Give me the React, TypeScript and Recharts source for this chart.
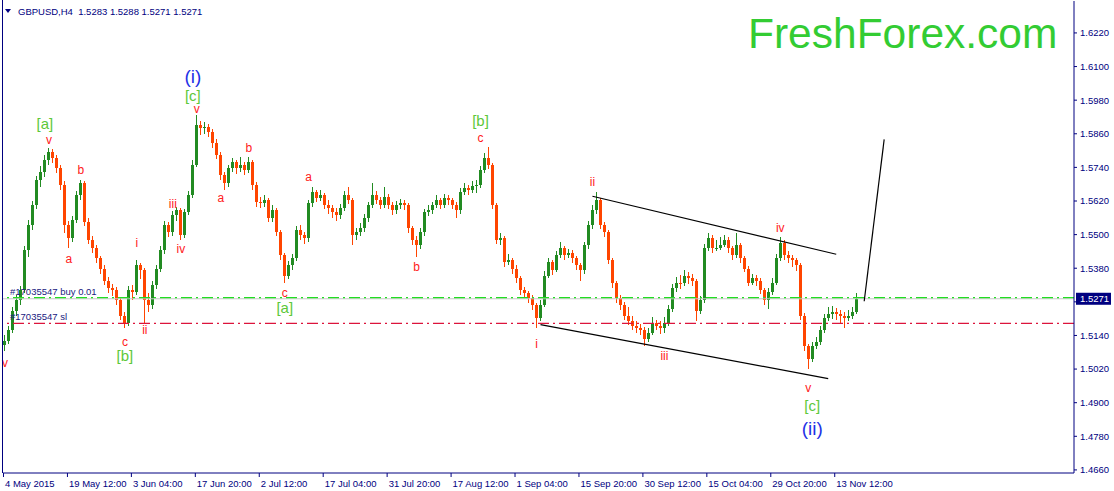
import React from 'react';
import { ComposedChart, Bar, XAxis, YAxis, ReferenceLine, ReferenceDot } from 'recharts';

// ---- price data (one candle per ~4 H4 bars) ----
const opens = [
  1.5105, 1.5122, 1.5158, 1.5229, 1.5265, 1.5301, 1.5444, 1.5533, 1.5605, 1.5694,
  1.5723, 1.5766, 1.5794, 1.5773, 1.5737, 1.5676, 1.5533, 1.5487, 1.5551, 1.5641,
  1.5683, 1.5544, 1.5480, 1.5451, 1.5415, 1.5379, 1.5336, 1.5308, 1.5301, 1.5265,
  1.5211, 1.5186, 1.5301, 1.5294, 1.5390, 1.5372, 1.5265, 1.5247, 1.5319, 1.5379,
  1.5444, 1.5533, 1.5508, 1.5569, 1.5587, 1.5497, 1.5580, 1.5641, 1.5748, 1.5891,
  1.5880, 1.5885, 1.5868, 1.5827, 1.5784, 1.5712, 1.5683, 1.5737, 1.5759, 1.5737,
  1.5748, 1.5730, 1.5759, 1.5676, 1.5615, 1.5612, 1.5623, 1.5558, 1.5587, 1.5508,
  1.5426, 1.5354, 1.5390, 1.5415, 1.5515, 1.5497, 1.5487, 1.5612, 1.5651, 1.5630,
  1.5641, 1.5605, 1.5594, 1.5580, 1.5569, 1.5594, 1.5641, 1.5623, 1.5497, 1.5508,
  1.5522, 1.5558, 1.5605, 1.5641, 1.5623, 1.5605, 1.5633, 1.5605, 1.5587, 1.5605,
  1.5612, 1.5605, 1.5522, 1.5480, 1.5462, 1.5508, 1.5580, 1.5587, 1.5605, 1.5623,
  1.5605, 1.5630, 1.5623, 1.5605, 1.5587, 1.5651, 1.5666, 1.5658, 1.5673, 1.5676,
  1.5730, 1.5773, 1.5748, 1.5605, 1.5480, 1.5487, 1.5401, 1.5408, 1.5379, 1.5344,
  1.5301, 1.5290, 1.5272, 1.5247, 1.5201, 1.5247, 1.5354, 1.5401, 1.5372, 1.5426,
  1.5451, 1.5426, 1.5433, 1.5415, 1.5390, 1.5372, 1.5462, 1.5533, 1.5587, 1.5623,
  1.5533, 1.5508, 1.5408, 1.5326, 1.5272, 1.5247, 1.5211, 1.5193, 1.5175, 1.5165,
  1.5158, 1.5129, 1.5150, 1.5186, 1.5175, 1.5165, 1.5186, 1.5236, 1.5308, 1.5329,
  1.5326, 1.5354, 1.5344, 1.5336, 1.5229, 1.5265, 1.5451, 1.5487, 1.5451, 1.5454,
  1.5462, 1.5480, 1.5451, 1.5426, 1.5462, 1.5415, 1.5379, 1.5329, 1.5344, 1.5336,
  1.5301, 1.5265, 1.5294, 1.5329, 1.5415, 1.5469, 1.5426, 1.5415, 1.5408, 1.5390,
  1.5211, 1.5104, 1.5057, 1.5104, 1.5115, 1.5158, 1.5201, 1.5218, 1.5222, 1.5215,
  1.5208, 1.5201, 1.5211, 1.5222,
];

const highs = [
  1.5140, 1.5172, 1.5240, 1.5285, 1.5318, 1.5458, 1.5552, 1.5620, 1.5708, 1.5745,
  1.5785, 1.5809, 1.5805, 1.5786, 1.5748, 1.5690, 1.5550, 1.5565, 1.5655, 1.5694,
  1.5690, 1.5560, 1.5495, 1.5462, 1.5425, 1.5390, 1.5350, 1.5325, 1.5312, 1.5278,
  1.5225, 1.5315, 1.5320, 1.5408, 1.5398, 1.5380, 1.5290, 1.5335, 1.5392, 1.5458,
  1.5548, 1.5545, 1.5585, 1.5600, 1.5595, 1.5592, 1.5655, 1.5765, 1.5927, 1.5905,
  1.5902, 1.5895, 1.5878, 1.5840, 1.5795, 1.5725, 1.5750, 1.5772, 1.5768, 1.5776,
  1.5758, 1.5776, 1.5768, 1.5688, 1.5635, 1.5640, 1.5632, 1.5605, 1.5595, 1.5515,
  1.5435, 1.5405, 1.5430, 1.5530, 1.5535, 1.5510, 1.5625, 1.5669, 1.5660, 1.5658,
  1.5650, 1.5625, 1.5605, 1.5595, 1.5610, 1.5655, 1.5669, 1.5630, 1.5525, 1.5540,
  1.5572, 1.5618, 1.5683, 1.5655, 1.5635, 1.5669, 1.5645, 1.5615, 1.5620, 1.5628,
  1.5625, 1.5612, 1.5530, 1.5495, 1.5522, 1.5592, 1.5605, 1.5618, 1.5640, 1.5632,
  1.5645, 1.5640, 1.5630, 1.5615, 1.5665, 1.5685, 1.5678, 1.5690, 1.5694, 1.5745,
  1.5790, 1.5812, 1.5755, 1.5612, 1.5505, 1.5495, 1.5430, 1.5415, 1.5390, 1.5352,
  1.5312, 1.5300, 1.5285, 1.5255, 1.5265, 1.5370, 1.5415, 1.5410, 1.5440, 1.5472,
  1.5460, 1.5450, 1.5445, 1.5425, 1.5398, 1.5475, 1.5548, 1.5605, 1.5651, 1.5630,
  1.5545, 1.5515, 1.5415, 1.5335, 1.5285, 1.5258, 1.5240, 1.5210, 1.5190, 1.5180,
  1.5170, 1.5165, 1.5205, 1.5195, 1.5190, 1.5205, 1.5250, 1.5322, 1.5350, 1.5355,
  1.5372, 1.5365, 1.5360, 1.5342, 1.5280, 1.5465, 1.5505, 1.5500, 1.5480, 1.5490,
  1.5500, 1.5492, 1.5460, 1.5504, 1.5470, 1.5425, 1.5388, 1.5360, 1.5355, 1.5345,
  1.5310, 1.5310, 1.5345, 1.5430, 1.5490, 1.5480, 1.5440, 1.5428, 1.5415, 1.5398,
  1.5220, 1.5110, 1.5118, 1.5135, 1.5172, 1.5215, 1.5240, 1.5245, 1.5238, 1.5230,
  1.5225, 1.5230, 1.5240, 1.5292,
];

const lows = [
  1.5086, 1.5110, 1.5150, 1.5210, 1.5248, 1.5290, 1.5420, 1.5515, 1.5590, 1.5670,
  1.5705, 1.5750, 1.5755, 1.5720, 1.5660, 1.5505, 1.5454, 1.5475, 1.5540, 1.5625,
  1.5530, 1.5465, 1.5435, 1.5400, 1.5360, 1.5320, 1.5290, 1.5280, 1.5248, 1.5195,
  1.5168, 1.5175, 1.5265, 1.5285, 1.5340, 1.5183, 1.5225, 1.5235, 1.5305, 1.5365,
  1.5430, 1.5490, 1.5495, 1.5550, 1.5480, 1.5488, 1.5570, 1.5630, 1.5740, 1.5855,
  1.5860, 1.5850, 1.5810, 1.5770, 1.5695, 1.5658, 1.5670, 1.5725, 1.5715, 1.5725,
  1.5712, 1.5720, 1.5660, 1.5600, 1.5595, 1.5598, 1.5545, 1.5545, 1.5495, 1.5410,
  1.5326, 1.5340, 1.5375, 1.5405, 1.5480, 1.5465, 1.5475, 1.5600, 1.5615, 1.5620,
  1.5590, 1.5575, 1.5560, 1.5550, 1.5555, 1.5585, 1.5610, 1.5462, 1.5480, 1.5495,
  1.5510, 1.5545, 1.5595, 1.5608, 1.5590, 1.5595, 1.5590, 1.5570, 1.5575, 1.5592,
  1.5588, 1.5505, 1.5462, 1.5419, 1.5450, 1.5495, 1.5565, 1.5575, 1.5595, 1.5590,
  1.5595, 1.5605, 1.5590, 1.5558, 1.5575, 1.5640, 1.5640, 1.5648, 1.5650, 1.5665,
  1.5720, 1.5735, 1.5590, 1.5465, 1.5462, 1.5385, 1.5390, 1.5360, 1.5328, 1.5285,
  1.5272, 1.5255, 1.5230, 1.5168, 1.5190, 1.5240, 1.5345, 1.5355, 1.5365, 1.5415,
  1.5410, 1.5415, 1.5400, 1.5372, 1.5336, 1.5360, 1.5450, 1.5520, 1.5575, 1.5520,
  1.5490, 1.5395, 1.5310, 1.5255, 1.5230, 1.5195, 1.5178, 1.5160, 1.5148, 1.5140,
  1.5104, 1.5115, 1.5140, 1.5158, 1.5145, 1.5150, 1.5175, 1.5225, 1.5295, 1.5305,
  1.5315, 1.5325, 1.5318, 1.5193, 1.5215, 1.5255, 1.5440, 1.5435, 1.5440, 1.5445,
  1.5455, 1.5435, 1.5410, 1.5418, 1.5400, 1.5365, 1.5315, 1.5320, 1.5318, 1.5288,
  1.5250, 1.5236, 1.5285, 1.5320, 1.5405, 1.5410, 1.5400, 1.5385, 1.5370, 1.5195,
  1.5085, 1.5022, 1.5045, 1.5090, 1.5105, 1.5148, 1.5190, 1.5200, 1.5195, 1.5185,
  1.5165, 1.5190, 1.5200, 1.5215,
];

const closes = [
  1.5122, 1.5158, 1.5229, 1.5265, 1.5301, 1.5444, 1.5533, 1.5605, 1.5694, 1.5723,
  1.5766, 1.5794, 1.5773, 1.5737, 1.5676, 1.5533, 1.5487, 1.5551, 1.5641, 1.5683,
  1.5544, 1.5480, 1.5451, 1.5415, 1.5379, 1.5336, 1.5308, 1.5301, 1.5265, 1.5211,
  1.5186, 1.5301, 1.5294, 1.5390, 1.5372, 1.5265, 1.5247, 1.5319, 1.5379, 1.5444,
  1.5533, 1.5508, 1.5569, 1.5587, 1.5497, 1.5580, 1.5641, 1.5748, 1.5891, 1.5880,
  1.5885, 1.5868, 1.5827, 1.5784, 1.5712, 1.5683, 1.5737, 1.5759, 1.5737, 1.5748,
  1.5730, 1.5759, 1.5676, 1.5615, 1.5612, 1.5623, 1.5558, 1.5587, 1.5508, 1.5426,
  1.5354, 1.5390, 1.5415, 1.5515, 1.5497, 1.5487, 1.5612, 1.5651, 1.5630, 1.5641,
  1.5605, 1.5594, 1.5580, 1.5569, 1.5594, 1.5641, 1.5623, 1.5497, 1.5508, 1.5522,
  1.5558, 1.5605, 1.5641, 1.5623, 1.5605, 1.5633, 1.5605, 1.5587, 1.5605, 1.5612,
  1.5605, 1.5522, 1.5480, 1.5462, 1.5508, 1.5580, 1.5587, 1.5605, 1.5623, 1.5605,
  1.5630, 1.5623, 1.5605, 1.5587, 1.5651, 1.5666, 1.5658, 1.5673, 1.5676, 1.5730,
  1.5773, 1.5748, 1.5605, 1.5480, 1.5487, 1.5401, 1.5408, 1.5379, 1.5344, 1.5301,
  1.5290, 1.5272, 1.5247, 1.5201, 1.5247, 1.5354, 1.5401, 1.5372, 1.5426, 1.5451,
  1.5426, 1.5433, 1.5415, 1.5390, 1.5372, 1.5462, 1.5533, 1.5587, 1.5623, 1.5533,
  1.5508, 1.5408, 1.5326, 1.5272, 1.5247, 1.5211, 1.5193, 1.5175, 1.5165, 1.5158,
  1.5129, 1.5150, 1.5186, 1.5175, 1.5165, 1.5186, 1.5236, 1.5308, 1.5329, 1.5326,
  1.5354, 1.5344, 1.5336, 1.5229, 1.5265, 1.5451, 1.5487, 1.5451, 1.5454, 1.5462,
  1.5480, 1.5451, 1.5426, 1.5462, 1.5415, 1.5379, 1.5329, 1.5344, 1.5336, 1.5301,
  1.5265, 1.5294, 1.5329, 1.5415, 1.5469, 1.5426, 1.5415, 1.5408, 1.5390, 1.5211,
  1.5104, 1.5057, 1.5104, 1.5115, 1.5158, 1.5201, 1.5218, 1.5222, 1.5215, 1.5208,
  1.5201, 1.5211, 1.5222, 1.5271,
];

const SLOT_COUNT = 268; // candle slots across the plot width (incl. empty right margin)

// ---- axes ----
const tickSlots = [0, 16, 32, 48, 64, 80, 96, 112, 128, 144, 160, 176, 192, 208];
const tickLabels = [
  '4 May 2015', '19 May 12:00', '3 Jun 04:00', '17 Jun 20:00', '2 Jul 12:00',
  '17 Jul 04:00', '31 Jul 20:00', '17 Aug 12:00', '1 Sep 04:00', '15 Sep 20:00',
  '30 Sep 12:00', '15 Oct 04:00', '29 Oct 20:00', '13 Nov 12:00',
];
const priceTicks = [
  1.466, 1.478, 1.49, 1.502, 1.514, 1.526, 1.538, 1.55, 1.562, 1.574, 1.586, 1.598, 1.61, 1.622,
];

// ---- horizontal levels ----
const bidPrice = 1.5271;
const buyPrice = 1.5275;
const slPrice = 1.5183;

// ---- wave labels ----
const waveTexts = ['(i)', '[c]', 'v', '[a]', 'v', 'b', 'a', 'i', 'iii', 'iv', 'ii', 'c', '[b]', 'a', 'v', 'b', 'a', 'c', '[a]', 'b', '[b]', 'c', 'ii', 'i', 'iii', 'iv', 'v', '[c]', '(ii)'];
const waveSlots = [47, 47, 48, 10, 11, 19, 16, 33, 42, 44, 35, 30, 30, 54, 0, 61, 76, 70, 70, 103, 119, 119, 147, 133, 165, 194, 201, 202, 202];
const wavePrices = [1.6063, 1.5998, 1.5948, 1.5898, 1.5837, 1.5730, 1.5412, 1.5469, 1.5608, 1.5447, 1.5161, 1.5118, 1.5068, 1.5630, 1.5043, 1.5809, 1.5705, 1.5290, 1.5240, 1.5383, 1.5909, 1.5844, 1.5687, 1.5108, 1.5068, 1.5522, 1.4954, 1.4889, 1.4807];

// ---- trend lines (slot, price) ----
const upperChannel = [[147, 1.5637], [208, 1.5430]];
const lowerChannel = [[134, 1.5179], [206, 1.4986]];
const projection = [[215, 1.5262], [220, 1.5840]];

const NAVY = '#000080';
const GREEN = '#228B22';
const ORANGE = '#FF4500';
const FONT = '"Liberation Sans", Arial, sans-serif';

const rows = Array.from({ length: SLOT_COUNT }, (_, k) =>
  k < closes.length ? { k, o: opens[k], h: highs[k], l: lows[k], c: closes[k] } : { k }
);

function Candle(props: any) {
  const { x, y, width, height, payload } = props;
  if (!payload || payload.o == null || !isFinite(y) || !isFinite(height)) return <g />;
  const top = Math.min(y, y + height);
  const bot = Math.max(y, y + height);
  const span = payload.h - payload.l;
  const pxPer = span > 0 ? (bot - top) / span : 0;
  const yo = top + (payload.h - payload.o) * pxPer;
  const yc = top + (payload.h - payload.c) * pxPer;
  const color = payload.c > payload.o ? GREEN : payload.c < payload.o ? ORANGE : '#000';
  const cx = Math.floor(x + width / 2);
  const bTop = Math.min(yo, yc);
  const bH = Math.max(1, Math.abs(yo - yc));
  return (
    <g shapeRendering="crispEdges">
      <line x1={cx + 0.5} x2={cx + 0.5} y1={top} y2={bot} stroke={color} strokeWidth={1} />
      <rect x={cx - 1} y={bTop} width={3} height={bH} fill={color} />
    </g>
  );
}

function XTick(props: any) {
  const { x, y, payload } = props;
  const idx = tickSlots.indexOf(payload.value);
  const label = idx >= 0 ? tickLabels[idx] : '';
  return (
    <g>
      <line x1={x - 1.5} x2={x - 1.5} y1={y - 6} y2={y - 2} stroke={NAVY} />
      <text x={x} y={y + 8} fontSize={9.5} fontFamily={FONT} fill={NAVY} textAnchor="start">
        {label}
      </text>
    </g>
  );
}

const orderLabel = (text: string, color: string) => (p: any) => {
  const vb = p.viewBox || {};
  return (
    <text x={vb.x + 7} y={vb.y - 3} fontSize={9.5} fontFamily={FONT} fill={color}>
      {text}
    </text>
  );
};

const priceBox = (p: any) => {
  const vb = p.viewBox || {};
  const bx = vb.x + vb.width + 2;
  return (
    <g>
      <rect x={bx} y={vb.y - 6} width={35} height={12} fill={NAVY} />
      <text x={bx + 4} y={vb.y + 3.5} fontSize={9.5} fontFamily={FONT} fill="#fff">
        {bidPrice.toFixed(4)}
      </text>
    </g>
  );
};

function waveStyle(t: string) {
  if (t.startsWith('(')) return { fill: '#1F32E6', size: 19 };
  if (t.startsWith('[')) return { fill: '#5CC83A', size: 15 };
  return { fill: '#FF2020', size: 12 };
}

const waveLabel = (t: string) => (p: any) => {
  const vb = p.viewBox || {};
  const s = waveStyle(t);
  return (
    <text
      x={vb.x + (vb.width || 0) / 2}
      y={vb.y + (vb.height || 0) / 2}
      textAnchor="middle"
      dominantBaseline="central"
      fontSize={s.size}
      fontFamily={FONT}
      fill={s.fill}
    >
      {t}
    </text>
  );
};

const seg = (pts: number[][]) => pts.map(([k, p]) => ({ x: k, y: p }));

// the bid box covers the axis label that sits right under it
const yTickText = (v: number) => (Math.abs(v - bidPrice) < 0.0015 ? '' : v.toFixed(4));

export default function App() {
  return (
    <div style={{ position: 'fixed', left: 0, top: 0, width: 1114, height: 491, background: '#fff' }}>
      <ComposedChart
        width={1114}
        height={491}
        data={rows}
        margin={{ top: 1, right: 0, bottom: 0, left: 3 }}
        barCategoryGap={0}
        barGap={0}
      >
        <XAxis
          dataKey="k"
          type="category"
          ticks={tickSlots}
          interval={0}
          height={18}
          tickSize={4}
          tickMargin={2}
          tickLine={false}
          axisLine={{ stroke: NAVY }}
          tick={(p: any) => <XTick {...p} />}
        />
        <YAxis
          orientation="right"
          type="number"
          width={40}
          domain={[1.4649, 1.6334]}
          allowDataOverflow
          ticks={priceTicks}
          interval={0}
          tickSize={3}
          tickMargin={3}
          axisLine={{ stroke: NAVY }}
          tickLine={{ stroke: NAVY }}
          tick={{ fill: NAVY, fontSize: 9.5, fontFamily: FONT }}
          tickFormatter={yTickText}
        />
        <Bar
          dataKey={(d: any) => (d.h == null ? null : [d.l, d.h])}
          shape={(p: any) => <Candle {...p} />}
          barSize={4}
          isAnimationActive={false}
        />
        <ReferenceLine y={bidPrice} stroke="#C8C8C8" strokeWidth={1} label={priceBox} />
        <ReferenceLine
          y={buyPrice}
          stroke="#22DD22"
          strokeWidth={1.2}
          strokeDasharray="11 4 2 4"
          label={orderLabel('#17035547 buy 0.01', '#202080')}
        />
        <ReferenceLine
          y={slPrice}
          stroke="#DC143C"
          strokeWidth={1.2}
          strokeDasharray="11 4 2 4"
          label={orderLabel('#17035547 sl', '#202080')}
        />
        <ReferenceLine segment={seg(upperChannel)} stroke="#000" strokeWidth={1.2} />
        <ReferenceLine segment={seg(lowerChannel)} stroke="#000" strokeWidth={1.2} />
        <ReferenceLine segment={seg(projection)} stroke="#000" strokeWidth={1.2} />
        {waveTexts.map((t, i) => (
          <ReferenceDot
            key={i}
            x={waveSlots[i]}
            y={wavePrices[i]}
            r={0}
            fill="none"
            stroke="none"
            label={waveLabel(t)}
          />
        ))}
      </ComposedChart>
      <svg
        width={1114}
        height={491}
        style={{ position: 'absolute', left: 0, top: 0, pointerEvents: 'none' }}
      >
        <line x1={2.5} x2={2.5} y1={0} y2={473} stroke={NAVY} />
        <polygon points="5,9 11,9 8,13" fill={NAVY} />
        <text x={18} y={15} fontSize={9.5} fontFamily={FONT} fill={NAVY} style={{ whiteSpace: 'pre' }}>
          {'GBPUSD,H4  1.5283 1.5288 1.5271 1.5271'}
        </text>
        <text x={748} y={48} fontSize={42.5} fontFamily={FONT} fill="#33CC33">
          FreshForex.com
        </text>
      </svg>
    </div>
  );
}
